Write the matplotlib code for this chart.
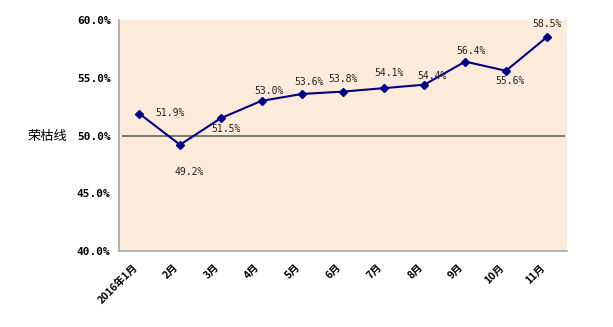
import matplotlib
matplotlib.use("Agg")
import matplotlib.pyplot as plt
import matplotlib.transforms as mtransforms

plt.rcParams['font.family'] = ['Noto Sans CJK SC', 'DejaVu Sans']

# données
mois = ['2016年1月', '2月', '3月', '4月', '5月', '6月', '7月', '8月', '9月', '10月', '11月']
valeurs = [51.9, 49.2, 51.5, 53.0, 53.6, 53.8, 54.1, 54.4, 56.4, 55.6, 58.5]
etiquettes = ['51.9%', '49.2%', '51.5%', '53.0%', '53.6%', '53.8%', '54.1%', '54.4%', '56.4%', '55.6%', '58.5%']
yticks = [40, 45, 50, 55, 60]
ytick_labels = ['40.0%', '45.0%', '50.0%', '55.0%', '60.0%']

# décalages des étiquettes (pixels)
decalages = [(31, 1), (9, -27), (5, -11), (7, 10), (7, 12), (0, 13),
             (5, 15), (8, 9), (6, 11), (4, -10), (0, 13)]

fig = plt.figure(figsize=(6.13, 3.27), dpi=100)
ax = fig.add_axes([0.194, 0.232, 0.731, 0.707])
ax.set_facecolor('#FCEADB')

x = list(range(len(mois)))
ax.plot(x, valeurs, color='#000080', linewidth=1.5, marker='D', markersize=4.5,
        markerfacecolor='#000080', markeredgecolor='#000080', zorder=3)

# ligne de 50%
ax.axhline(50, xmin=0.01, xmax=0.993, color='#77776a', linewidth=1.4, zorder=2)

for xi, v, lab, (dx, dy) in zip(x, valeurs, etiquettes, decalages):
    ax.annotate(lab, (xi, v), xytext=(dx, dy), textcoords='offset pixels',
                ha='center', va='center', fontsize=7, color='#222222',
                family=['DejaVu Sans Mono', 'DejaVu Sans'])

ax.set_xlim(-0.5, len(mois) - 0.5)
ax.set_ylim(40, 60)
ax.set_yticks(yticks)
ax.set_yticklabels(ytick_labels, fontsize=8, fontweight='bold',
                   family=['DejaVu Sans Mono', 'DejaVu Sans'])
ax.set_xticks(x)
ax.set_xticklabels(mois, rotation=45, ha='right', rotation_mode='anchor',
                   fontsize=7.5, fontweight='bold')
ax.tick_params(axis='both', length=0)
ax.tick_params(axis='y', pad=6)
ax.tick_params(axis='x', pad=8)

# décaler un peu les étiquettes du mois vers la gauche
decal = mtransforms.ScaledTranslation(-7 / 100, 0, fig.dpi_scale_trans)
for t in ax.get_xticklabels():
    t.set_transform(t.get_transform() + decal)

for s in ['top', 'right']:
    ax.spines[s].set_visible(False)
for s in ['left', 'bottom']:
    ax.spines[s].set_color('#A6A6A6')
    ax.spines[s].set_linewidth(1.2)

fig.text(28 / 613, 1 - 136 / 327, '荣枯线', fontsize=9.5, va='center', ha='left')

fig.savefig('out.png', dpi=100)
